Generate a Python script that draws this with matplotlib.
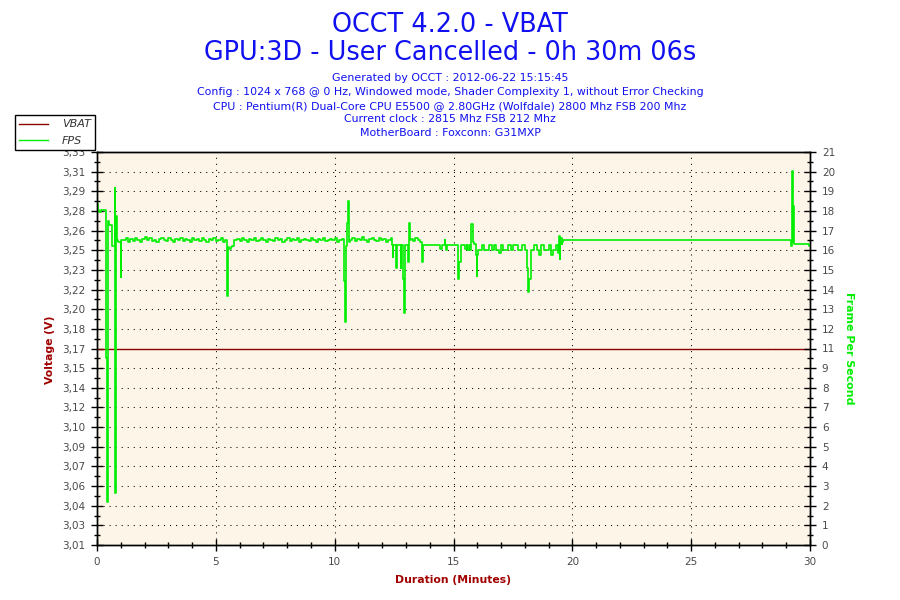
import numpy as np
import matplotlib
matplotlib.use("Agg")
import matplotlib.pyplot as plt
from matplotlib.ticker import FixedLocator, MultipleLocator
from matplotlib.lines import Line2D

# ---- data ----
title1 = "OCCT 4.2.0 - VBAT"
title2 = "GPU:3D - User Cancelled - 0h 30m 06s"
info_lines = [
    "Generated by OCCT : 2012-06-22 15:15:45",
    "Config : 1024 x 768 @ 0 Hz, Windowed mode, Shader Complexity 1, without Error Checking",
    "CPU : Pentium(R) Dual-Core CPU E5500 @ 2.80GHz (Wolfdale) 2800 Mhz FSB 200 Mhz",
    "Current clock : 2815 Mhz FSB 212 Mhz",
    "MotherBoard : Foxconn: G31MXP",
]

volt_labels = ["3,01", "3,03", "3,04", "3,06", "3,07", "3,09", "3,10", "3,12", "3,14", "3,15",
               "3,17", "3,18", "3,20", "3,22", "3,23", "3,25", "3,26", "3,28", "3,29", "3,31", "3,33"]
fps_labels = ["0", "1", "2", "3", "4", "5", "6", "7", "8", "9", "11",
              "12", "13", "14", "15", "16", "17", "18", "19", "20", "21"]

# VBAT stays flat for the whole run
vbat_t = [0.0, 30.1]
vbat_v = [3.17, 3.17]

# FPS: spikes / plateaus (minutes, fps)
event_t = [0.00, 0.03, 0.10, 0.18, 0.36, 0.40, 0.45, 0.50, 0.62, 0.75, 0.77, 0.80, 0.83, 0.88, 0.99, 1.03,
           5.46, 5.50, 5.56, 5.62, 5.70, 5.76,
           10.38, 10.42, 10.46, 10.50, 10.55, 10.59,
           12.40, 12.44, 12.47, 12.60, 12.64, 12.77, 12.81, 12.88, 12.91, 12.94, 13.08, 13.12, 13.16,
           13.68, 13.71, 14.43, 14.50, 14.63, 14.66, 14.68, 14.74, 15.20, 15.24, 15.31, 15.48, 15.55,
           15.58, 15.65, 15.68, 15.73, 15.81, 15.84, 15.88, 15.94, 15.97, 16.00, 16.03,
           18.08, 18.12, 18.18, 18.24,
           19.45, 19.47, 19.50, 19.55, 19.58, 19.62,
           29.22, 29.25, 29.28, 29.30, 29.33, 29.96, 30.10]
event_fps = [18.2, 17.9, 17.8, 17.9, 10.0, 2.3, 17.3, 17.1, 16.0, 19.1, 2.8, 17.6, 16.3, 16.2, 14.3, 16.3,
             13.3, 15.9, 15.8, 15.9, 16.0, 16.3,
             14.1, 11.9, 16.0, 17.2, 18.4, 16.2,
             16.05, 15.4, 16.05, 14.8, 16.05, 14.8, 16.05, 14.2, 12.4, 16.05, 15.1, 17.2, 16.3,
             15.1, 16.03, 15.8, 16.03, 16.3, 16.03, 15.75, 16.03, 14.2, 15.1, 16.03, 15.8, 16.03,
             15.75, 16.03, 15.75, 17.15, 16.4, 16.2, 16.1, 15.5, 14.35, 15.5, 15.77,
             14.8, 13.54, 14.2, 15.77,
             16.5, 15.3, 16.4, 16.1, 16.2, 16.3,
             16.0, 20.0, 16.2, 18.1, 16.1, 16.0, 16.0]

# FPS: noisy stretches, one sample every 0.1 min from the given start
base1_start = 1.1
base1 = [16.3, 16.4, 16.2, 16.35, 16.25, 16.4, 16.3, 16.2, 16.35, 16.45,
         16.3, 16.4, 16.25, 16.3, 16.2, 16.35, 16.4, 16.3, 16.25, 16.4,
         16.3, 16.2, 16.35, 16.3, 16.4, 16.25, 16.35, 16.3, 16.2, 16.4,
         16.3, 16.35, 16.25, 16.4, 16.3, 16.2, 16.35, 16.3, 16.4, 16.25,
         16.3, 16.4, 16.2, 16.3]
base2_start = 5.8
base2 = [16.3, 16.35, 16.25, 16.4, 16.3, 16.2, 16.35, 16.3, 16.4, 16.25,
         16.3, 16.4, 16.3, 16.2, 16.35, 16.3, 16.25, 16.4, 16.3, 16.35,
         16.2, 16.3, 16.4, 16.25, 16.35, 16.3, 16.4, 16.2, 16.3, 16.35,
         16.3, 16.25, 16.4, 16.3, 16.2, 16.35, 16.3, 16.4, 16.25, 16.3,
         16.35, 16.3, 16.4, 16.2, 16.3, 16.35]
base3_start = 10.65
base3 = [16.3, 16.4, 16.25, 16.35, 16.3, 16.45, 16.3, 16.2, 16.35, 16.4,
         16.3, 16.25, 16.4, 16.3, 16.35, 16.2, 16.3, 16.4]
base4_start = 13.2
base4 = [16.35, 16.25, 16.4, 16.3, 16.2]
base5_start = 16.1
base5 = [15.77, 16.03, 15.77, 15.77, 16.03, 15.77, 16.03, 15.77, 15.6, 16.03,
         15.77, 15.77, 16.03, 15.77, 16.03, 16.03, 15.77, 15.77, 16.03, 15.77]
base6_start = 18.3
base6 = [15.77, 16.03, 15.77, 15.5, 16.03, 15.77, 15.77, 16.03, 15.5, 15.77, 16.03, 15.6]

# ---- assemble FPS series ----
t_parts = [np.array(event_t)]
f_parts = [np.array(event_fps)]
for start, vals in [(base1_start, base1), (base2_start, base2), (base3_start, base3),
                    (base4_start, base4), (base5_start, base5), (base6_start, base6)]:
    t_parts.append(np.round(start + 0.1 * np.arange(len(vals)), 3))
    f_parts.append(np.array(vals))
fps_t = np.concatenate(t_parts)
fps_v = np.concatenate(f_parts)
order = np.argsort(fps_t, kind="stable")
fps_t, fps_v = fps_t[order], fps_v[order]

# ---- figure ----
red = "#a00000"
green = "#00ee00"
blue = "#1010f0"
grey = "#4a4a4a"

fig = plt.figure(figsize=(9, 6), dpi=100)
ax = fig.add_axes([97 / 900, 55 / 600, 713 / 900, 393 / 600])
ax.set_facecolor("#fdf6e8")
ax.set_xlim(0, 30)
ax.set_ylim(3.01, 3.33)

ax2 = ax.twinx()
ax2.set_ylim(0, 21)

ax.plot(vbat_t, vbat_v, color="#8b0000", lw=1.0)
ax2.plot(fps_t, fps_v, color=green, lw=1.2, drawstyle="steps-post")

volt_ticks = np.linspace(3.01, 3.33, 21)
ax.yaxis.set_major_locator(FixedLocator(volt_ticks))
ax.set_yticklabels(volt_labels)
ax.yaxis.set_minor_locator(FixedLocator(np.linspace(3.01, 3.33, 41)))
ax.xaxis.set_major_locator(MultipleLocator(5))
ax.xaxis.set_minor_locator(MultipleLocator(1))

fps_ticks = np.linspace(0, 21, 21)
ax2.yaxis.set_major_locator(FixedLocator(fps_ticks))
ax2.set_yticklabels(fps_labels)
ax2.yaxis.set_minor_locator(FixedLocator(np.linspace(0, 21, 41)))

for a in (ax, ax2):
    a.tick_params(which="major", direction="inout", length=9, width=1,
                  color="black", labelcolor=grey, labelsize=7.5, pad=4)
    a.tick_params(which="minor", direction="inout", length=5, width=1, color="black")
    for s in a.spines.values():
        s.set_color("black")
        s.set_linewidth(1)

ax.grid(True, which="major", color="black", linestyle=(0, (1, 4.8)), linewidth=0.75)

# ---- text ----
fig.text(0.5, 1 - 32 / 600, title1, ha="center", va="baseline", fontsize=18.4, color=blue)
fig.text(0.5, 1 - 59.5 / 600, title2, ha="center", va="baseline", fontsize=18.4, color=blue)
for i, line in enumerate(info_lines):
    fig.text(0.5, 1 - (81 + 13.8 * i) / 600, line, ha="center", va="baseline",
             fontsize=7.95, color=blue)

fig.text(50 / 900, 1 - 350 / 600, "Voltage (V)", rotation=90, ha="center", va="center",
         fontsize=7.8, fontweight="bold", color=red)
fig.text(849 / 900, 1 - 348 / 600, "Frame Per Second", rotation=270, ha="center", va="center",
         fontsize=7.9, fontweight="bold", color=green)
fig.text(453 / 900, 1 - 580 / 600, "Duration (Minutes)", ha="center", va="center",
         fontsize=7.8, fontweight="bold", color=red)

handles = [Line2D([], [], color="#8b0000", lw=1.0), Line2D([], [], color=green, lw=1.0)]
leg = fig.legend(handles, ["VBAT", "FPS"], loc="upper left",
                 bbox_to_anchor=(15 / 900, 1 - 115 / 600), borderaxespad=0,
                 fancybox=False, framealpha=1, facecolor="white", edgecolor="black",
                 prop={"style": "italic", "size": 8}, handlelength=2.6,
                 handletextpad=1.2, labelspacing=0.55, borderpad=0.4)
leg.get_frame().set_linewidth(1)
for txt in leg.get_texts():
    txt.set_color("#333333")

fig.savefig("out.png", dpi=100)
